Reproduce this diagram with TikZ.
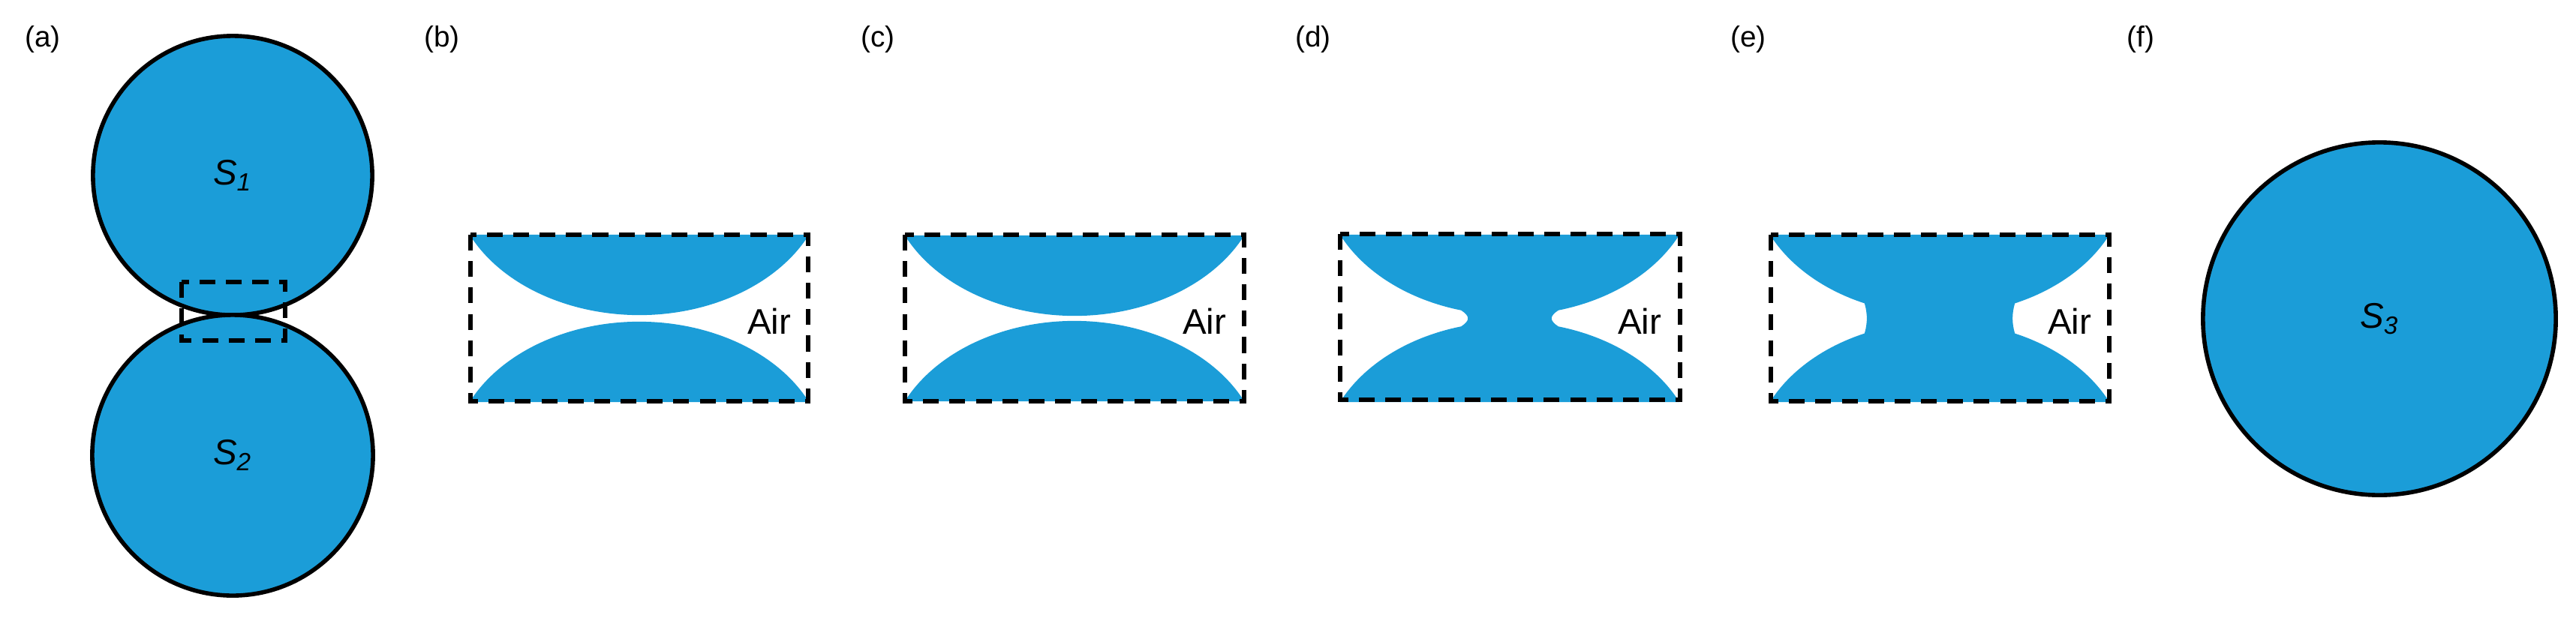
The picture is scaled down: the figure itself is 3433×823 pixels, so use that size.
\documentclass[tikz,border=0pt]{standalone}
\usepackage{fontspec}
\setmainfont{Liberation Sans}
\begin{document}
\begin{tikzpicture}[x=0.01cm,y=0.01cm,
  drop/.style={fill={rgb,255:red,27;green,157;blue,216}},
  ball/.style={drop,draw=black,line width=1.6pt},
  box/.style={draw=black,line width=1.7pt,dash pattern=on 6pt off 4pt},
  lab/.style={font=\fontsize{11}{13}\selectfont},
  big/.style={font=\fontsize{13.5}{15}\selectfont},
  el/.style={x radius=2.5cm,y radius=1.87cm}]
\useasboundingbox (0,0) rectangle (3433,823);
% (a)
\node[ball,circle,minimum size=3.72cm,inner sep=0] (s1) at (310,589) {};
\node[ball,circle,minimum size=3.74cm,inner sep=0] (s2) at (310,216) {};
\node[big] at (s1) {\textit{S}$_{\mathit{1}}$};
\node[big] at (s2) {\textit{S}$_{\mathit{2}}$};
\draw[box] (242,447) rectangle (380,369);
% (b)
\fill[drop] ([shift={(852,590)}]{-154.7}:{2.5cm} and {1.87cm}) arc[el,start angle=-154.7,end angle=-25.3] -- cycle;
\fill[drop] ([shift={(852,207)}]{25.3}:{2.5cm} and {1.87cm}) arc[el,start angle=25.3,end angle=154.7] -- cycle;
\draw[box] (627,510) rectangle (1077,288);
\node[big] at (1025,395) {Air};
% (c)
\fill[drop] ([shift={(1432,589)}]{-154.7}:{2.5cm} and {1.87cm}) arc[el,start angle=-154.7,end angle=-25.3] -- cycle;
\fill[drop] ([shift={(1432,208)}]{25.3}:{2.5cm} and {1.87cm}) arc[el,start angle=25.3,end angle=154.7] -- cycle;
\draw[box] (1206,510) rectangle (1658,288);
\node[big] at (1605,395) {Air};
% (d)
\fill[drop] ([shift={(2012,590)}]{-154.7}:{2.5cm} and {1.87cm}) arc[el,start angle=-154.7,end angle=-105]
  .. controls +(12,-8) and +(12,8) .. ([shift={(2012,207)}]{105}:{2.5cm} and {1.87cm})
  arc[el,start angle=105,end angle=154.7]
  -- ([shift={(2012,207)}]{25.3}:{2.5cm} and {1.87cm}) arc[el,start angle=25.3,end angle=75]
  .. controls +(-12,8) and +(-12,-8) .. ([shift={(2012,590)}]{-75}:{2.5cm} and {1.87cm})
  arc[el,start angle=-75,end angle=-25.3] -- cycle;
\draw[box] (1786,511) rectangle (2239,290);
\node[big] at (2185,395) {Air};
% (e)
\fill[drop] ([shift={(2585,590)}]{-154.7}:{2.5cm} and {1.87cm}) arc[el,start angle=-154.7,end angle=-113.6]
  .. controls +(4,-14) and +(4,14) .. ([shift={(2585,207)}]{113.6}:{2.5cm} and {1.87cm})
  arc[el,start angle=113.6,end angle=154.7]
  -- ([shift={(2585,207)}]{25.3}:{2.5cm} and {1.87cm}) arc[el,start angle=25.3,end angle=66.4]
  .. controls +(-4,14) and +(-4,-14) .. ([shift={(2585,590)}]{-66.4}:{2.5cm} and {1.87cm})
  arc[el,start angle=-66.4,end angle=-25.3] -- cycle;
\draw[box] (2360,510) rectangle (2811,288);
\node[big] at (2758,395) {Air};
% (f)
\node[ball,circle,minimum size=4.7cm,inner sep=0] (s3) at (3171,398) {};
\node[big] at (s3) {\textit{S}$_{\mathit{3}}$};
% labels
\node[lab] (la) at (57,771) {(a)};
\node[lab] (lb) at (589,771) {(b)};
\node[lab] (lc) at (1170,771) {(c)};
\node[lab] (ld) at (1750,771) {(d)};
\node[lab] (le) at (2330,771) {(e)};
\node[lab] (lf) at (2853,771) {(f)};
\end{tikzpicture}
\end{document}
